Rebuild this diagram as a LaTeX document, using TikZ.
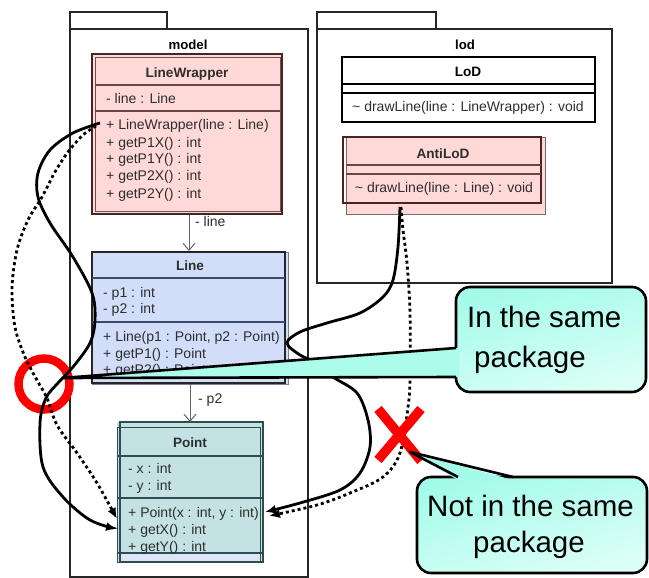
\documentclass[tikz,border=0pt]{standalone}
\usepackage{fontspec}
\setmainfont{Liberation Sans}
\usetikzlibrary{arrows.meta}

\definecolor{lwpink}{HTML}{FFD8D8}
\definecolor{lwedge}{HTML}{4A2424}
\definecolor{lineblue}{HTML}{D2DDF9}
\definecolor{lineedge}{HTML}{3C4A70}
\definecolor{ptteal}{HTML}{C4E2E4}
\definecolor{ptedge}{HTML}{2F4C4E}
\definecolor{ptstrip}{HTML}{DDE5F8}
\definecolor{clstxt}{HTML}{2E2E2E}
\definecolor{calA}{HTML}{A4FBEA}
\definecolor{calB}{HTML}{DCFFF7}
\definecolor{markred}{HTML}{FF0000}

\begin{document}
\begin{tikzpicture}[x=1pt,y=-1pt,
  pkg/.style={draw=black!85, line width=1.7pt},
  pkgname/.style={font=\fontsize{13.2}{16}\selectfont\bfseries, inner sep=0pt, anchor=base},
  clsname/.style={font=\fontsize{13.6}{16}\selectfont\bfseries, text=clstxt, inner sep=0pt, anchor=base},
  clsrow/.style={font=\fontsize{14}{17}\selectfont, text=clstxt, inner sep=0pt, anchor=base west},
  assoc/.style={draw=black!60, line width=1pt, -{Straight Barb[length=7pt,width=12pt]}},
  callarrow/.style={line width=2.8pt, -{Latex[length=11pt,width=9pt]}},
  calldot/.style={callarrow, dash pattern=on 3pt off 3pt},
  calloutbox/.style={draw=black, line width=2.6pt, rounded corners=14pt,
    top color=calA, bottom color=calB, shading angle=15, inner sep=0pt, outer sep=0pt},
  callouttext/.style={font=\fontsize{29.5}{34}\selectfont, inner sep=0pt, anchor=base west},
  wedgeedge/.style={draw=black, line width=2.6pt, line join=round}
]
\useasboundingbox (0,0) rectangle (649,578);
\fill[white] (0,0) rectangle (649,578);

% ---------- packages ----------
\draw[pkg] (70,12) rectangle (167,29);
\draw[pkg] (70,29) rectangle (308,577);
\node[pkgname] (modelname) at (188,50) {model};

\draw[pkg] (317,12) rectangle (436,29);
\draw[pkg] (317,29) rectangle (612,283);
\node[pkgname] (lodname) at (465,50) {lod};

% ---------- LineWrapper ----------
\fill[lwpink] (92,54) rectangle (282,214);
\draw[lwedge, line width=1.6pt] (92,54) rectangle (282,214);
\draw[lwedge!80!white, line width=1pt] (95,58) rectangle (280,211);
\draw[lwedge!85!white, line width=1.4pt] (95,85) -- (280,85) (95,111) -- (280,111);
\node[clsname] (lwname) at (187,78) {LineWrapper};
\node[clsrow] (lwattr) at (106,104) {- line : Line};
\node[clsrow] (lwm1) at (106,130) {+ LineWrapper(line : Line)};
\node[clsrow] (lwm2) at (106,147) {+ getP1X() : int};
\node[clsrow] (lwm3) at (106,164) {+ getP1Y() : int};
\node[clsrow] (lwm4) at (106,181) {+ getP2X() : int};
\node[clsrow] (lwm5) at (106,198) {+ getP2Y() : int};

% ---------- LoD ----------
\draw[black, line width=1.8pt, fill=white] (342,57) rectangle (595,122);
\draw[black, line width=1.4pt] (342,84) -- (595,84) (342,93) -- (595,93);
\node[clsname, text=black] (lodcls) at (468,77) {LoD};
\node[clsrow, anchor=base] (lodm) at (468,112) {\textasciitilde{} drawLine(line : LineWrapper) : void};

% ---------- AntiLoD ----------
\fill[lwpink] (346,138) rectangle (545,214);
\draw[lwedge!70!white, line width=1pt] (346,138) rectangle (545,214);
\draw[lwedge, line width=1.6pt] (343,137) rectangle (541,203);
\draw[lwedge!85!white, line width=1.4pt] (346,165) -- (541,165) (346,174) -- (541,174);
\node[clsname] (antiname) at (443,158) {AntiLoD};
\node[clsrow, anchor=base] (antim) at (444,193) {\textasciitilde{} drawLine(line : Line) : void};

% ---------- Line ----------
\fill[lineblue] (92,252) rectangle (288,384);
\draw[lineedge!70!white, line width=1pt] (92,252) rectangle (288,384);
\draw[black!85, line width=1.8pt] (92,252) rectangle (285,383);
\draw[lineedge, line width=1.4pt] (92,278) -- (285,278) (92,322) -- (285,322);
\node[clsname] (linename) at (190,270) {Line};
\node[clsrow] (lna1) at (103,297) {- p1 : int};
\node[clsrow] (lna2) at (103,313) {- p2 : int};
\node[clsrow] (lnm1) at (103,341) {+ Line(p1 : Point, p2 : Point)};
\node[clsrow] (lnm2) at (103,358) {+ getP1() : Point};
\node[clsrow] (lnm3) at (103,374) {+ getP2() : Point};

% ---------- Point ----------
\fill[ptteal] (117,422) rectangle (263,562);
\fill[ptstrip] (117,553) rectangle (263,562);
\draw[ptedge, line width=1.6pt] (120,422) rectangle (263,562);
\draw[ptedge, line width=1pt] (117,427) rectangle (260,562);
\draw[ptedge, line width=1.4pt] (117,456) -- (263,456) (117,498) -- (263,498) (117,553) -- (263,553);
\node[clsname] (ptname) at (190,447) {Point};
\node[clsrow] (pta1) at (128,473) {- x : int};
\node[clsrow] (pta2) at (128,490) {- y : int};
\node[clsrow] (ptm1) at (128,517) {+ Point(x : int, y : int)};
\node[clsrow] (ptm2) at (128,534) {+ getX() : int};
\node[clsrow] (ptm3) at (128,551) {+ getY() : int};

% ---------- associations ----------
\coordinate (lwBottom) at (189,215);
\coordinate (lineTop) at (189,251);
\draw[assoc] (lwBottom) -- (lineTop);
\node[clsrow] (lwlab) at (195,226) {- line};
\coordinate (lineBottom) at (190,384);
\coordinate (ptTop) at (190,422);
\draw[assoc] (lineBottom) -- (ptTop);
\node[clsrow] (p2lab) at (198,403) {- p2};

% ---------- red ring ----------
\node[draw=markred, line width=8.5pt, circle, minimum size=51pt, inner sep=0pt] (ring) at (44,384) {};

% ---------- call chains ----------
\coordinate (lwCallA) at (100,123);
\coordinate (lwCallB) at (96,126);
\coordinate (ptGetXa) at (117,529);
\coordinate (ptGetXb) at (117,519);
\coordinate (antiCallA) at (400,207);
\coordinate (antiCallB) at (401,207);
\coordinate (ptPointA) at (265,512);
\coordinate (ptPointB) at (269,516);

\draw[callarrow] plot[smooth, tension=0.55] coordinates {(lwCallA) (73,133) (50,150) (38,173) (38,197)
  (50,223) (73,257) (92,293) (95,320) (90,343) (73,367) (58,383) (46,398) (40,423) (43,467)
  (63,497) (90,520) (ptGetXa)};
\draw[calldot] plot[smooth, tension=0.55] coordinates {(lwCallB) (83,135) (68,152) (55,172) (42,197)
  (28,220) (17,250) (12,288) (15,327) (25,357) (38,382) (47,398) (57,425) (77,453) (97,483) (ptGetXb)};

\draw[callarrow] plot[smooth, tension=0.55] coordinates {(antiCallA) (398,247) (393,280) (383,297)
  (360,313) (327,323) (300,332) (287,343) (300,355) (317,363) (333,377) (357,393) (368,420)
  (370,447) (360,473) (340,490) (300,503) (ptPointA)};
\draw[calldot] plot[smooth, tension=0.55] coordinates {(antiCallB) (403,230) (407,263) (410,313)
  (410,380) (408,407) (400,453) (383,477) (350,493) (317,505) (ptPointB)};

% ---------- red cross ----------
\draw[markred, line width=9.5pt] (378,409) -- (421,461);
\draw[markred, line width=9.5pt] (421,409) -- (378,460);

% ---------- callout: same package ----------
\node[calloutbox, minimum width=190pt, minimum height=105pt] (sameBox) at (551,339.5) {};
\coordinate (sameTip) at (62,378);
\fill[calA!85!calB] (sameTip) -- (459,348) -- (459,377) -- cycle;
\draw[wedgeedge] (456,348) -- (sameTip) -- (456,377);
\node[callouttext] (sameL1) at (467,327) {In the same};
\node[callouttext] (sameL2) at (474,367) {package};

% ---------- callout: other package ----------
\node[calloutbox, minimum width=230pt, minimum height=96pt] (otherBox) at (532,525) {};
\coordinate (otherTip) at (410,452);
\fill[calA] (otherTip) -- (458,480) -- (513,480) -- cycle;
\draw[wedgeedge] (458,477) -- (otherTip) -- (513,477);
\node[callouttext] (otherL1) at (427,516) {Not in the same};
\node[callouttext] (otherL2) at (473,552) {package};
\end{tikzpicture}
\end{document}
